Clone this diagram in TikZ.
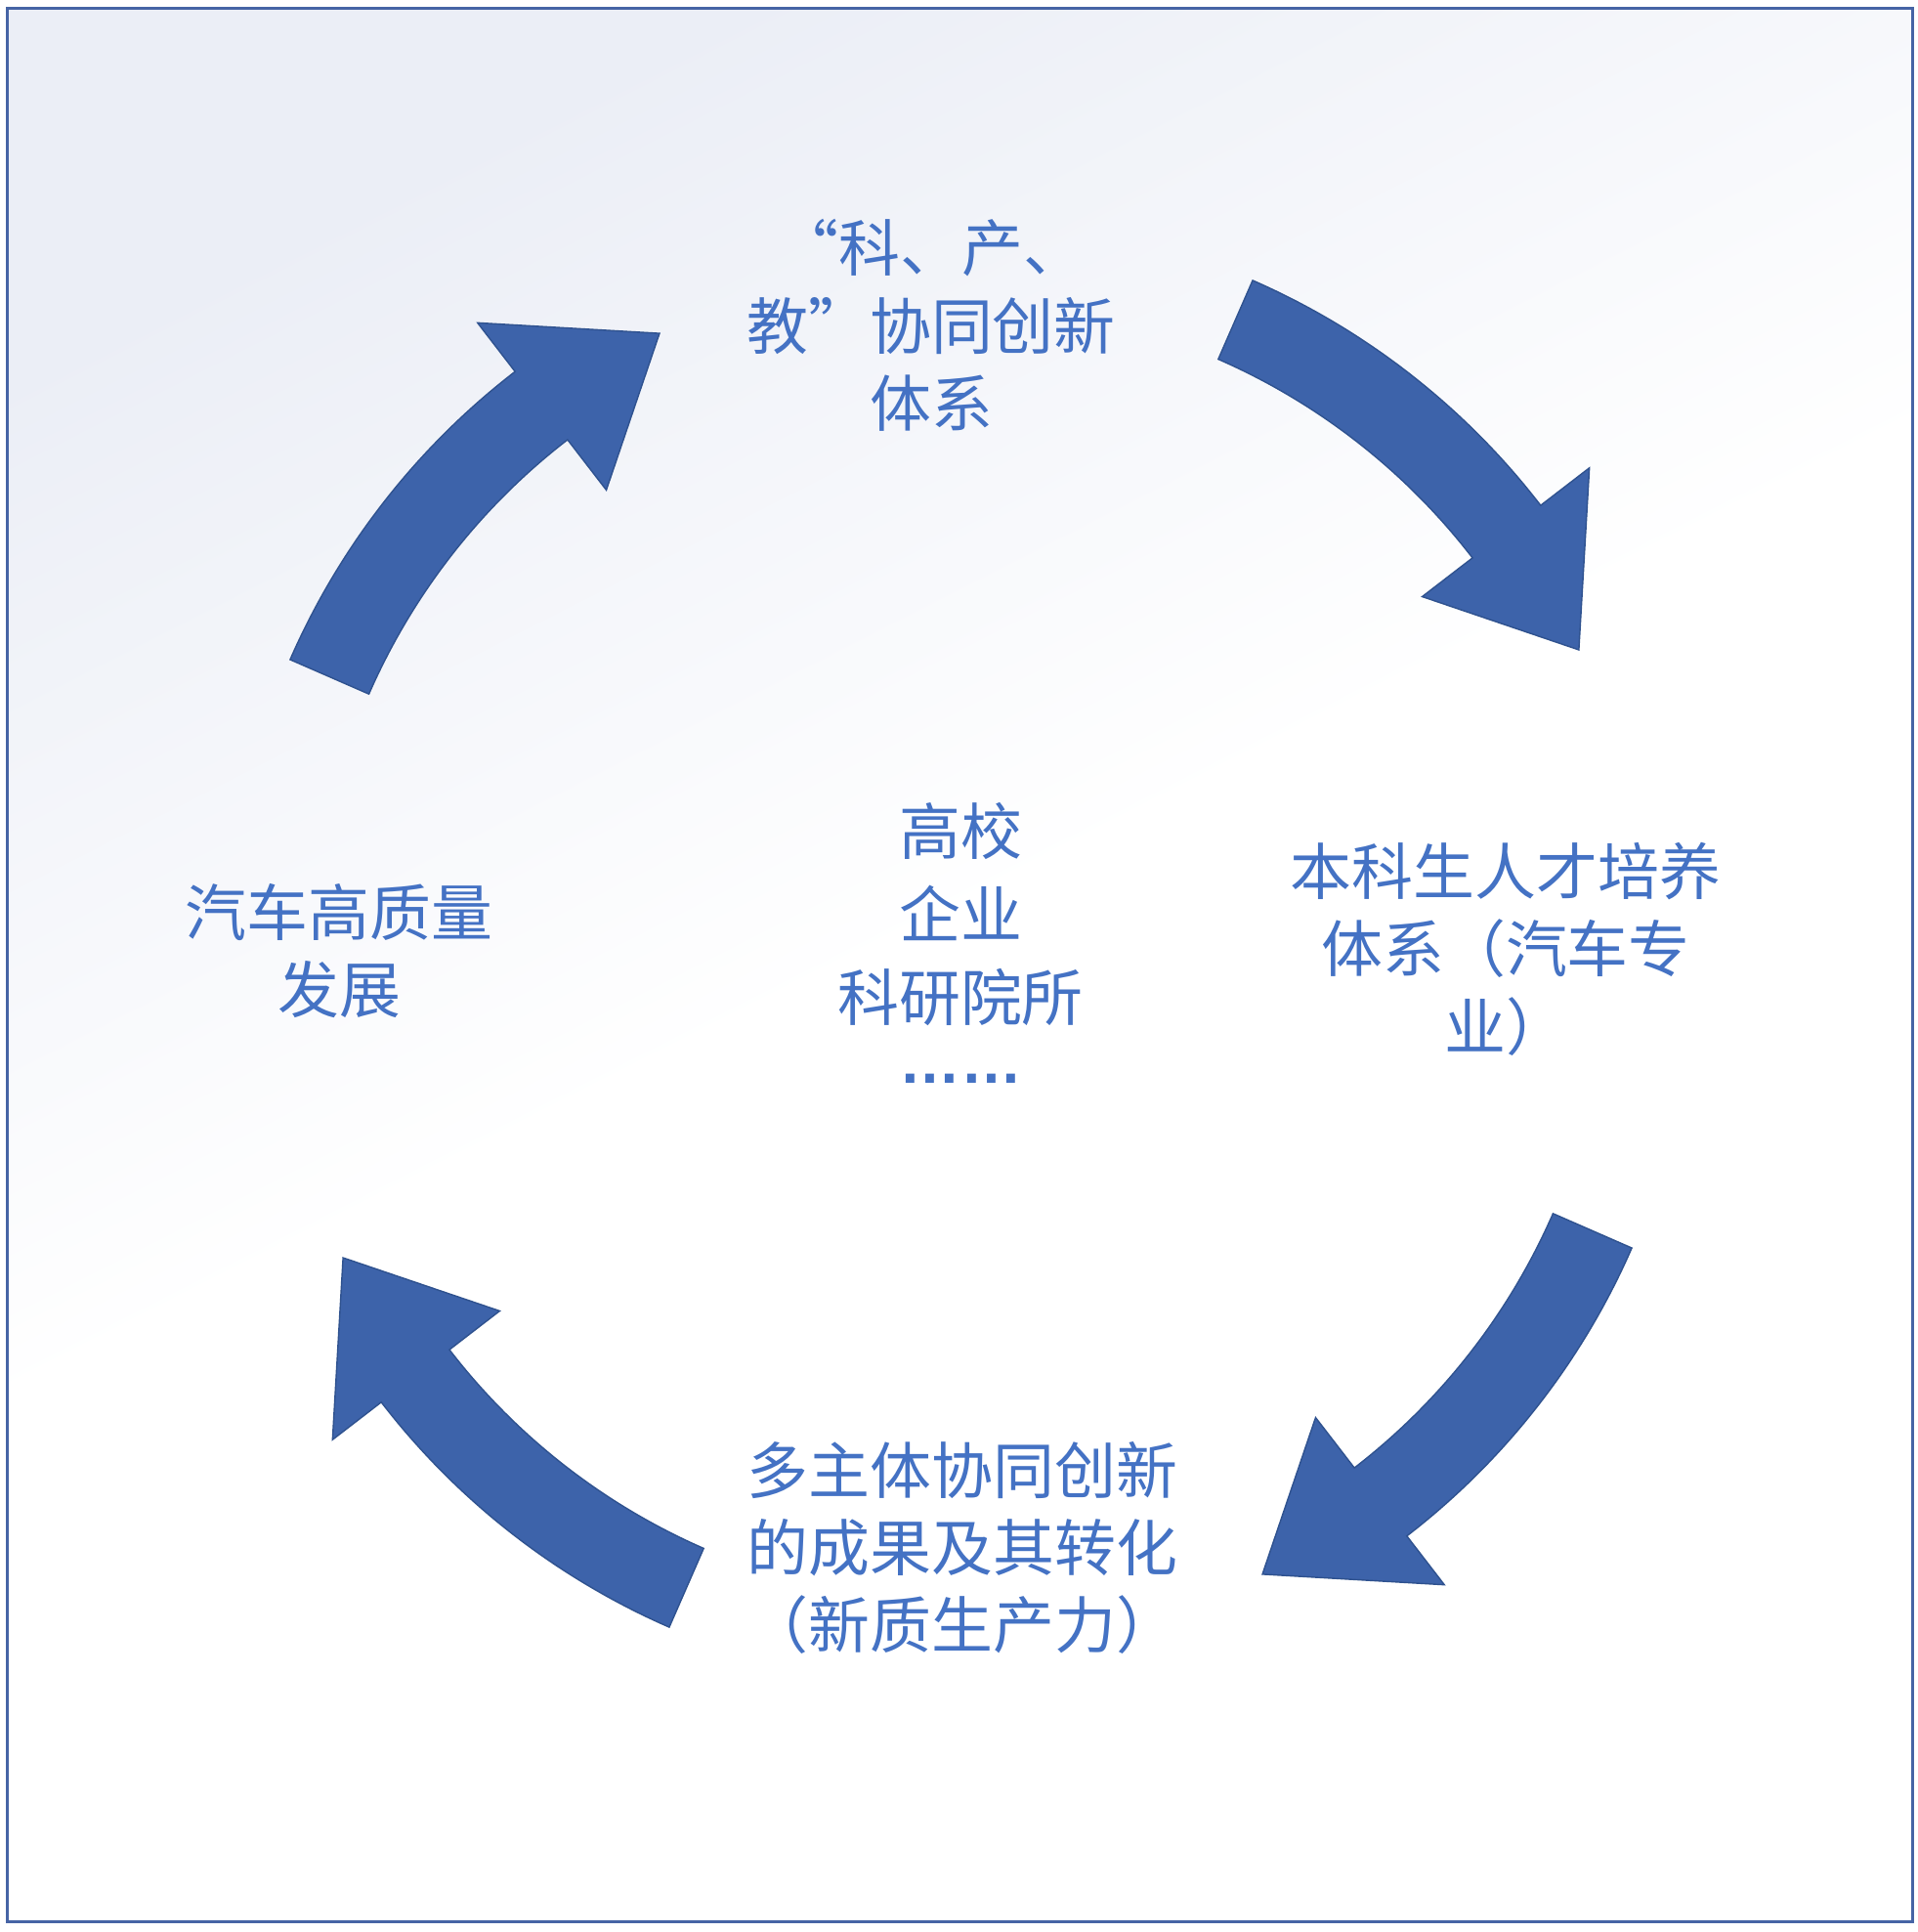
\documentclass[tikz,border=0pt]{standalone}
\usepackage{fontspec}
\newfontfamily\cjk{Noto Sans CJK SC}
\newfontfamily\dotfont{Liberation Sans}
\usepackage{tikz}
\usetikzlibrary{positioning}
\definecolor{cyctext}{RGB}{68,114,196}
\definecolor{cycfill}{RGB}{61,99,170}
\definecolor{cycline}{RGB}{47,82,143}
\definecolor{bgtop}{RGB}{235,238,246}
\definecolor{frameblue}{RGB}{70,100,165}
\pgfdeclareverticalshading{bgfade}{100bp}{color(0bp)=(white); color(51bp)=(white); color(75bp)=(bgtop); color(100bp)=(bgtop)}

\begin{document}
\begin{tikzpicture}[every node/.style={font=\cjk\fontsize{17.9}{22.6}\selectfont, text=cyctext, align=center, inner sep=0pt},
  cyc/.style={fill=cycfill, draw=cycline, line width=0.4pt, line join=miter}]
\useasboundingbox (0,0) rectangle (19.62,-19.77);
\shade[shading=bgfade, shading angle=27] (0.075,-0.085) rectangle (19.57,-19.66);
\draw[frameblue, line width=0.85pt] (0.075,-0.085) rectangle (19.57,-19.66);
\coordinate (ctr) at (9.81,-9.76);
% the four curved arrows, turned by 90 degrees each
\filldraw[cyc, shift={(ctr)}, xshift=0.05cm] (156.4:7.52) arc[start angle=156.4, end angle=127.6, radius=7.52] -- (127.6:8.15) -- (116.1:7.07) -- (127.6:5.99) -- (127.6:6.64) arc[start angle=127.6, end angle=156.4, radius=6.64] -- cycle;
\filldraw[cyc, shift={(ctr)}, rotate=-90] (156.4:7.52) arc[start angle=156.4, end angle=127.6, radius=7.52] -- (127.6:8.15) -- (116.1:7.07) -- (127.6:5.99) -- (127.6:6.64) arc[start angle=127.6, end angle=156.4, radius=6.64] -- cycle;
\filldraw[cyc, shift={(ctr)}, rotate=-180] (156.4:7.52) arc[start angle=156.4, end angle=127.6, radius=7.52] -- (127.6:8.15) -- (116.1:7.07) -- (127.6:5.99) -- (127.6:6.64) arc[start angle=127.6, end angle=156.4, radius=6.64] -- cycle;
\filldraw[cyc, shift={(ctr)}, xshift=0.05cm, rotate=-270] (156.4:7.52) arc[start angle=156.4, end angle=127.6, radius=7.52] -- (127.6:8.15) -- (116.1:7.07) -- (127.6:5.99) -- (127.6:6.64) arc[start angle=127.6, end angle=156.4, radius=6.64] -- cycle;
% texts
\node (tixi) at (9.53,-3.33) {\makebox[1em][r]{“}科、产、\\教\makebox[1em][l]{”}协同创新\\体系};
\node (rencai) at (15.41,-9.71) {本科生人才培养\\体系（汽车专\\业）};
\node (chengguo) at (9.85,-15.84) {多主体协同创新\\的成果及其转化\\（新质生产力）};
\node (fazhan) at (3.47,-9.73) {汽车高质量\\发展};
\node[font=\cjk\fontsize{17.9}{24.2}\selectfont] (zhuti) at (9.83,-9.75) {高校\\企业\\科研院所\\\raisebox{6pt}{\dotfont\bfseries ……}};
\end{tikzpicture}
\end{document}
